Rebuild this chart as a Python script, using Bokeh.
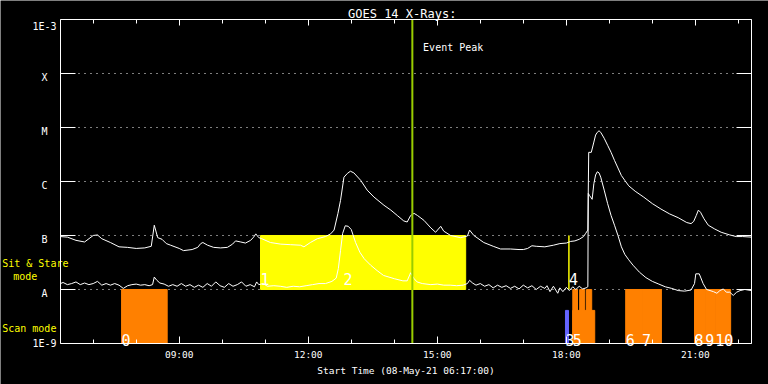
from bokeh.plotting import figure
from bokeh.models import (Range1d, FixedTicker, LogAxis, LinearAxis,
                          CustomJSTickFormatter)
from bokeh.core.properties import value
from bokeh.embed import file_html
from bokeh.resources import INLINE

FONT = "DejaVu Sans Mono"

# ---------------- data ----------------
# time in hours of 08-May-21 (UT); flux as log10(W m^-2)
long_time = [6.24, 6.4, 6.6, 6.8, 7.0, 7.1, 7.2, 7.4, 7.6, 7.8,
             8.0, 8.2, 8.35, 8.42, 8.5, 8.6, 8.7, 8.8, 9.0, 9.1,
             9.3, 9.43, 9.5, 9.55, 9.66, 9.8, 9.96, 10.12, 10.24, 10.31,
             10.43, 10.54, 10.66, 10.73, 10.78, 10.85, 10.92, 11.12, 11.36, 11.59,
             11.82, 11.9, 12.05, 12.21, 12.4, 12.52, 12.6, 12.69, 12.75, 12.83,
             12.91, 12.98, 13.06, 13.22, 13.37, 13.53, 13.76, 13.92, 14.07, 14.22,
             14.3, 14.38, 14.46, 14.54, 14.69, 14.85, 14.96, 15.08, 15.15, 15.31,
             15.54, 15.7, 15.75, 15.85, 16.08, 16.3, 16.47, 16.7, 16.9, 17.0,
             17.1, 17.2, 17.3, 17.5, 17.7, 17.85, 18.0, 18.1, 18.2, 18.3,
             18.4, 18.45, 18.5, 18.52, 18.58, 18.64, 18.68, 18.72, 18.76, 18.8,
             18.88, 18.96, 19.04, 19.12, 19.2, 19.28, 19.36, 19.45, 19.6, 19.8,
             20.0, 20.2, 20.4, 20.6, 20.8, 20.9, 20.96, 21.02, 21.07, 21.12,
             21.2, 21.3, 21.45, 21.6, 21.8, 21.95, 22.1, 22.3]
long_log = [-7.02, -7.03, -7.09, -7.12, -7.00, -6.99, -7.06, -7.13, -7.21, -7.22,
            -7.24, -7.23, -7.20, -6.81, -7.04, -7.07, -7.15, -7.18, -7.24, -7.28,
            -7.26, -7.22, -7.15, -7.13, -7.18, -7.22, -7.23, -7.22, -7.16, -7.10,
            -7.12, -7.14, -7.09, -7.03, -6.97, -7.04, -7.06, -7.13, -7.16, -7.17,
            -7.18, -7.21, -7.13, -7.06, -7.02, -6.97, -6.90, -6.59, -6.35, -5.92,
            -5.85, -5.81, -5.84, -5.98, -6.16, -6.29, -6.44, -6.53, -6.63, -6.73,
            -6.75, -6.63, -6.59, -6.63, -6.72, -6.86, -6.94, -6.83, -6.92, -7.00,
            -7.04, -7.01, -6.90, -7.00, -7.13, -7.20, -7.25, -7.25, -7.26, -7.26,
            -7.24, -7.19, -7.20, -7.21, -7.18, -7.15, -7.14, -7.11, -7.10, -7.07,
            -7.02, -6.96, -6.90, -5.46, -5.46, -5.27, -5.14, -5.09, -5.06, -5.09,
            -5.20, -5.33, -5.46, -5.61, -5.75, -5.89, -5.98, -6.08, -6.18, -6.29,
            -6.41, -6.51, -6.60, -6.67, -6.76, -6.78, -6.74, -6.63, -6.53, -6.57,
            -6.69, -6.81, -6.88, -6.94, -6.99, -7.02, -7.02, -7.03]

short_time = [6.24, 6.3, 6.4, 6.5, 6.6, 6.7, 6.8, 6.9, 7.0, 7.1,
              7.2, 7.3, 7.4, 7.5, 7.6, 7.7, 7.8, 7.9, 8.0, 8.1,
              8.2, 8.3, 8.38, 8.42, 8.48, 8.55, 8.65, 8.75, 8.85, 8.95,
              9.05, 9.15, 9.25, 9.35, 9.45, 9.55, 9.65, 9.75, 9.85, 9.95,
              10.05, 10.15, 10.25, 10.35, 10.45, 10.55, 10.65, 10.75, 10.8, 10.85,
              10.95, 11.05, 11.2, 11.35, 11.5, 11.65, 11.8, 11.95, 12.1, 12.25,
              12.4, 12.55, 12.65, 12.7, 12.75, 12.8, 12.86, 12.93, 13.0, 13.1,
              13.2, 13.3, 13.45, 13.6, 13.75, 14.0, 14.2, 14.3, 14.38, 14.45,
              14.53, 14.65, 14.85, 15.0, 15.15, 15.3, 15.45, 15.6, 15.7, 15.75,
              15.82, 15.9, 16.0, 16.1, 16.2, 16.3, 16.4, 16.5, 16.6, 16.7,
              16.8, 16.9, 17.0, 17.1, 17.2, 17.3, 17.4, 17.5, 17.55, 17.62,
              17.7, 17.8, 17.85, 17.92, 18.0, 18.07, 18.15, 18.22, 18.3, 18.38,
              18.46, 18.5, 18.51, 18.54, 18.6, 18.64, 18.68, 18.72, 18.76, 18.8,
              18.88, 18.96, 19.04, 19.12, 19.2, 19.28, 19.36, 19.45, 19.55, 19.7,
              19.85, 20.0, 20.15, 20.3, 20.45, 20.6, 20.75, 20.9, 20.98, 21.01,
              21.09, 21.12, 21.18, 21.26, 21.42, 21.5, 21.57, 21.65, 21.72, 21.8,
              21.88, 21.96, 22.04, 22.15, 22.3]
short_log = [-7.89, -7.87, -7.91, -7.89, -7.86, -7.91, -7.88, -7.91, -7.89, -7.85,
             -7.92, -7.89, -7.92, -7.89, -7.92, -7.98, -7.93, -7.91, -7.90, -7.92,
             -7.91, -7.93, -7.91, -7.77, -7.83, -7.88, -7.90, -7.94, -7.91, -7.94,
             -7.89, -7.94, -7.91, -7.96, -7.92, -7.96, -7.89, -7.94, -7.86, -7.93,
             -7.96, -7.89, -7.94, -7.91, -7.86, -7.94, -7.91, -7.95, -7.86, -7.91,
             -7.89, -7.94, -7.93, -7.94, -7.96, -7.94, -7.95, -7.93, -7.91, -7.89,
             -7.89, -7.85, -7.79, -7.61, -7.28, -6.96, -6.82, -6.83, -6.89, -7.13,
             -7.31, -7.43, -7.55, -7.65, -7.74, -7.80, -7.84, -7.84, -7.69, -7.79,
             -7.86, -7.89, -7.91, -7.90, -7.92, -7.92, -7.93, -7.92, -7.89, -7.83,
             -7.88, -7.92, -7.89, -7.94, -7.91, -7.97, -7.92, -7.96, -7.93, -7.98,
             -7.94, -7.99, -7.92, -7.97, -7.93, -8.00, -7.94, -7.98, -7.93, -8.04,
             -7.94, -8.07, -7.97, -8.04, -7.96, -8.02, -7.95, -8.00, -7.94, -7.99,
             -7.97, -7.95, -6.22, -6.26, -6.33, -6.04, -5.88, -5.82, -5.84, -5.92,
             -6.16, -6.41, -6.63, -6.81, -7.00, -7.21, -7.35, -7.45, -7.55, -7.68,
             -7.78, -7.85, -7.90, -7.95, -7.98, -8.02, -8.03, -8.01, -7.89, -7.71,
             -7.71, -7.77, -7.89, -8.00, -8.04, -8.07, -8.02, -7.99, -8.05, -8.05,
             -8.11, -8.05, -8.02, -8.00, -8.02]

# observing modes (hours)
sit_start = [10.89, 12.82, 18.06]
sit_end = [12.82, 15.66, 18.06]
sit_id = ["1", "2", "4"]

scan_start = [7.66, 17.98, 18.15, 19.38, 19.76, 20.98, 21.23, 21.46]
scan_end = [8.72, 18.05, 18.66, 19.76, 20.21, 21.23, 21.46, 21.82]
scan_top = [1e-8, 4.1e-9, 4.1e-9, 1e-8, 1e-8, 1e-8, 1e-8, 1e-8]
scan_id = ["0", "3", "5", "6", "7", "8", "9", "10"]
scan_color = ["#ff8000", "#6464ff", "#ff8000", "#ff8000", "#ff8000",
              "#ff8000", "#ff8000", "#ff8000"]
burst_start = [18.15, 18.31, 18.47]
burst_end = [18.26, 18.43, 18.59]

event_peak = 14.42

t_start, t_end = 6.24, 22.30
level_exp = [-9, -8, -7, -6, -5, -4, -3]
level_labels = ["1E-9", "A", "B", "C", "M", "X", "1E-3"]
grid_exp = [-8, -7, -6, -5, -4]

tick_hours = [9, 12, 15, 18, 21]
tick_labels = ["09:00", "12:00", "15:00", "18:00", "21:00"]
minor_hours = [7, 8, 10, 11, 13, 14, 16, 17, 19, 20, 22]

level_flux = [10.0 ** e for e in level_exp]
grid_flux = [10.0 ** e for e in grid_exp]

# ---------------- figure ----------------
# the frame covers the whole page; the plot box is built from bounded axes
p = figure(width=768, height=384, output_backend="svg", toolbar_location=None,
           title=None,
           x_range=Range1d(4.845, 22.70), y_range=Range1d(1.740e-10, 2.248e-3),
           y_axis_type="log",
           min_border_left=0, min_border_right=0, min_border_top=0,
           min_border_bottom=0,
           background_fill_color="black", border_fill_color="black",
           outline_line_color=None)
p.xgrid.visible = False
p.ygrid.visible = False

empty = CustomJSTickFormatter(code="return ''")

xa = p.xaxis[0]
xa.fixed_location = 1e-9
xa.bounds = (t_start, t_end)
xa.ticker = FixedTicker(ticks=tick_hours, minor_ticks=minor_hours)
xa.major_label_overrides = dict(zip(tick_hours, tick_labels))
xa.axis_label = "Start Time (08-May-21 06:17:00)"
xa.axis_line_color = "white"
xa.major_tick_line_color = "white"
xa.minor_tick_line_color = "white"
xa.major_tick_in = 7
xa.major_tick_out = 0
xa.minor_tick_in = 4
xa.minor_tick_out = 0
xa.major_label_text_color = "white"
xa.major_label_text_font = FONT
xa.major_label_text_font_size = "9.5px"
xa.major_label_standoff = 6
xa.axis_label_text_color = "white"
xa.axis_label_text_font = FONT
xa.axis_label_text_font_size = "9.5px"
xa.axis_label_text_font_style = "normal"
xa.axis_label_standoff = 1

top = LinearAxis(fixed_location=1e-3, bounds=(t_start, t_end),
                 ticker=FixedTicker(ticks=tick_hours, minor_ticks=minor_hours),
                 formatter=empty, axis_line_color="white",
                 major_tick_line_color="white", minor_tick_line_color="white",
                 major_tick_in=6, major_tick_out=0, minor_tick_in=4, minor_tick_out=0)
p.add_layout(top, "above")

ya = p.yaxis[0]
ya.fixed_location = t_start
ya.bounds = (1e-9, 1e-3)
ya.ticker = FixedTicker(ticks=level_flux, minor_ticks=[])
ya.formatter = empty
ya.axis_line_color = "white"
ya.major_tick_line_color = "white"
ya.major_tick_in = 15
ya.major_tick_out = 0
ya.minor_tick_line_color = None

right = LogAxis(fixed_location=t_end, bounds=(1e-9, 1e-3),
                ticker=FixedTicker(ticks=level_flux, minor_ticks=[]),
                formatter=empty, axis_line_color="white",
                major_tick_line_color="white", minor_tick_line_color=None,
                major_tick_in=15, major_tick_out=0)
p.add_layout(right, "right")

# dotted class levels
p.segment(x0=[t_start] * len(grid_flux), x1=[t_end] * len(grid_flux),
          y0=grid_flux, y1=grid_flux, line_color="white", line_width=1,
          line_dash="1 5")

# mode bars
p.quad(left=sit_start, right=sit_end, bottom=1e-8, top=1e-7,
       fill_color="#ffff00", line_color="#ffff00", line_width=1)
p.quad(left=scan_start, right=scan_end, bottom=1e-9, top=scan_top,
       fill_color=scan_color, line_color=scan_color, line_width=1)
p.quad(left=burst_start, right=burst_end, bottom=1e-9, top=1e-8,
       fill_color="#ff8000", line_color="#ff8000", line_width=1)

# light curves
p.line(long_time, [10 ** v for v in long_log], line_color="white", line_width=1)
p.line(short_time, [10 ** v for v in short_log], line_color="white", line_width=1)

# mode numbers
p.text(x=sit_start, y=[1.578e-8] * len(sit_start), text=sit_id,
       text_color="white", text_font=value(FONT), text_font_size="15px",
       text_align="left", text_baseline="alphabetic")
p.text(x=scan_start, y=[1.172e-9] * len(scan_start), text=scan_id,
       text_color="white", text_font=value(FONT), text_font_size="15px",
       text_align="left", text_baseline="alphabetic")

# event peak marker
p.segment(x0=[event_peak], x1=[event_peak], y0=[1e-9], y1=[1e-3],
          line_color="#99cc00", line_width=2)


def txt(text, x, y, color="white", size="10px", align="left"):
    p.text(x=[x], y=[y], text=[text], text_color=color,
           text_font=value(FONT), text_font_size=size,
           text_align=align, text_baseline="alphabetic")


txt("Event Peak", event_peak + 0.25, 10 ** -3.513)
txt("GOES 14 X-Rays:", 14.184, 10 ** -2.894, size="12px", align="center")

# class-level labels, centred left of the box
lab_y = []
for e, t in zip(level_exp, level_labels):
    if t == "1E-3":
        lab_y.append(10 ** -3.137)
    elif t == "1E-9":
        lab_y.append(10 ** -9.006)
    else:
        lab_y.append(10 ** (e - 0.078))
p.text(x=[5.868] * len(level_labels), y=lab_y, text=level_labels,
       text_color="white", text_font=value(FONT), text_font_size="10px",
       text_align="center", text_baseline="alphabetic")

txt("Sit & Stare", 4.885, 10 ** -7.513, color="#ffff00")
txt("mode", 5.140, 10 ** -7.754, color="#ffff00")
txt("Scan mode", 4.885, 10 ** -8.728, color="#ffff00")

open("out.html", "w").write(file_html(p, INLINE))
